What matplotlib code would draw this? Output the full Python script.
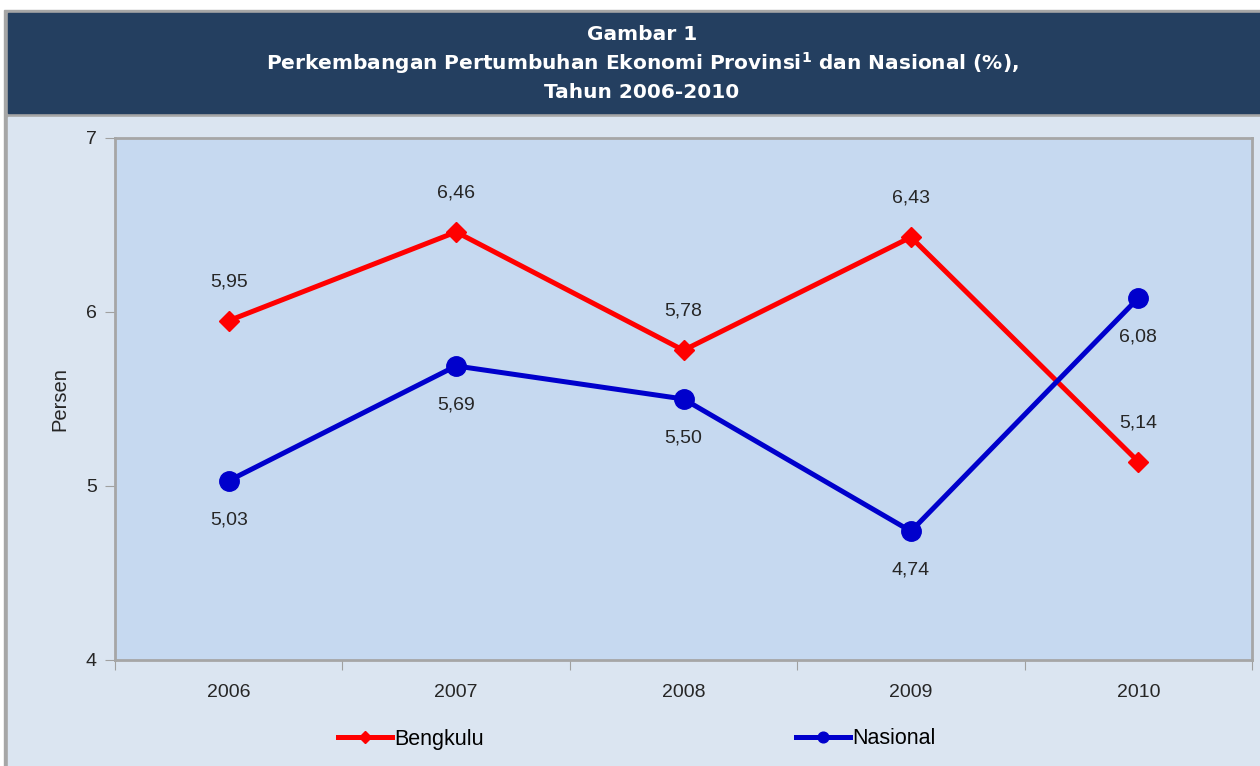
import matplotlib
matplotlib.use("Agg")
import matplotlib.pyplot as plt
from matplotlib.patches import Rectangle

years = ['2006', '2007', '2008', '2009', '2010']
bengkulu = [5.95, 6.46, 5.78, 6.43, 5.14]
nasional = [5.03, 5.69, 5.50, 4.74, 6.08]
bengkulu_lbl = ['5,95', '6,46', '5,78', '6,43', '5,14']
nasional_lbl = ['5,03', '5,69', '5,50', '4,74', '6,08']

W, H = 1260, 766
fig = plt.figure(figsize=(W / 100, H / 100), dpi=100)
fig.patch.set_facecolor('white')

def frect(x0, y0, x1, y1, color):
    # rectangle in pixel coords (top-left origin), kept behind the axes
    fig.patches.append(Rectangle((x0 / W, 1 - y1 / H), (x1 - x0) / W, (y1 - y0) / H,
                                 transform=fig.transFigure, color=color, zorder=-5))

frect(4, 10, W, H, '#a6a6a6')          # gray frame
frect(8, 13, W, 113, '#243f60')        # header
frect(8, 117, W, H, '#dbe5f1')         # chart panel

title_kw = dict(color='white', fontsize=14.5, fontweight='bold', ha='center', va='center',
                family='DejaVu Sans')
fig.text(642 / W, 1 - 35 / H, 'Gambar 1', **title_kw)
fig.text(642 / W, 1 - 63 / H, r'Perkembangan Pertumbuhan Ekonomi Provinsi$^{\mathbf{1}}$ dan Nasional (%),',
         **title_kw)
fig.text(642 / W, 1 - 92 / H, 'Tahun 2006-2010', **title_kw)

ax = fig.add_axes([115 / W, 1 - 660 / H, (1252 - 115) / W, (660 - 138) / H])
ax.set_facecolor('#c6d9f0')
x = range(len(years))

ax.plot(x, bengkulu, color='#ff0000', lw=3.6, marker='D', ms=10.5, label='Bengkulu', zorder=3)
ax.plot(x, nasional, color='#0000cc', lw=3.6, marker='o', ms=14, label='Nasional', zorder=3)

lbl_kw = dict(textcoords='offset points', ha='center', va='center', fontsize=14,
              color='#262626', family='Liberation Sans')
for i, (v, t) in enumerate(zip(bengkulu, bengkulu_lbl)):
    ax.annotate(t, (i, v), xytext=(0, 28), **lbl_kw)
for i, (v, t) in enumerate(zip(nasional, nasional_lbl)):
    ax.annotate(t, (i, v), xytext=(0, -28), **lbl_kw)

ax.set_xlim(-0.5, 4.5)
ax.set_ylim(4, 7)
ax.set_yticks([4, 5, 6, 7])
ax.set_xticks([i - 0.5 for i in range(6)])
ax.set_xticklabels([])
ax.set_xticks(list(x), minor=True)
ax.set_xticklabels(years, minor=True)
ax.tick_params(axis='x', which='minor', length=0, pad=17, labelsize=14, labelcolor='#262626')
ax.tick_params(axis='x', which='major', length=7, color='#a0a0a0', direction='out')
ax.tick_params(axis='y', length=7, color='#a0a0a0', direction='out', pad=6, labelsize=14,
               labelcolor='#262626')
for lab in ax.get_xticklabels(minor=True) + ax.get_yticklabels():
    lab.set_family('Liberation Sans')
for s in ax.spines.values():
    s.set_color('#a6a6a6')
    s.set_linewidth(2)

ax.set_ylabel('Persen', fontsize=14.5, color='#262626', family='Liberation Sans', labelpad=12)

fig.legend(loc='center', bbox_to_anchor=(637 / W, 1 - 739 / H), ncol=2, frameon=False,
           prop={'family': 'Liberation Sans', 'size': 15.5}, handlelength=2.5, handletextpad=0.1,
           columnspacing=14.5, markerscale=0.55)

fig.savefig('out.png', dpi=100)
